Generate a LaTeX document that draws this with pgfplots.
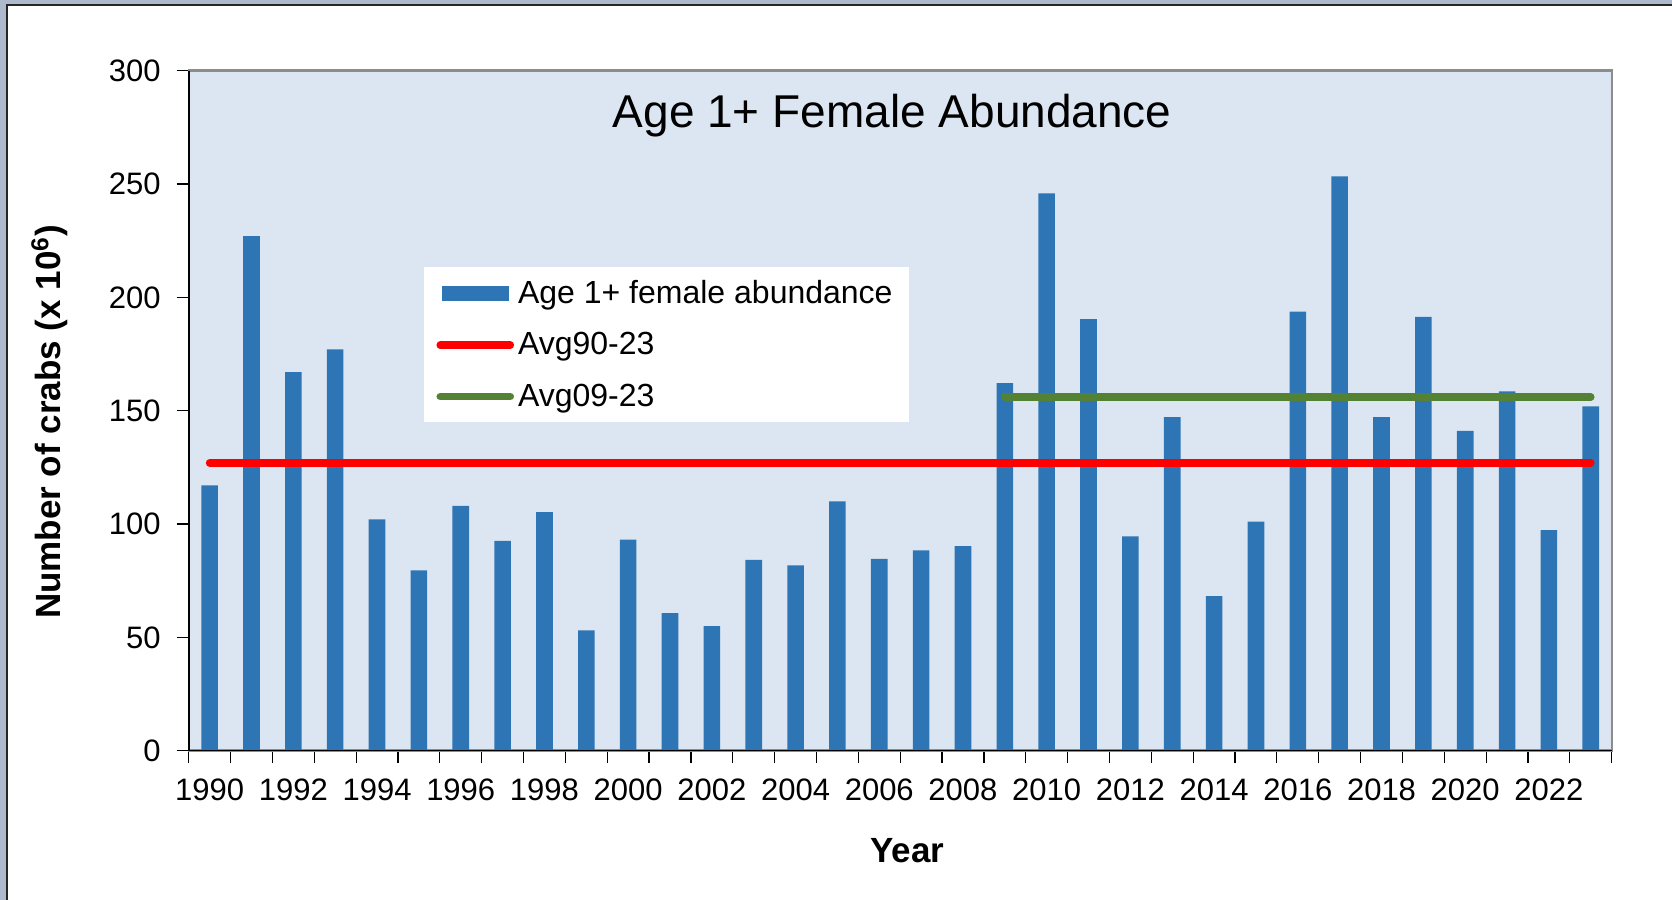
\documentclass[border=0pt]{standalone}
\usepackage{fontspec}
\setmainfont{Liberation Sans}
\usepackage{pgfplots}
\pgfplotsset{compat=1.18}
\definecolor{framebg}{HTML}{ADB9CD}
\definecolor{plotbg}{HTML}{DCE6F2}
\definecolor{barblue}{HTML}{2E75B6}
\definecolor{avggreen}{HTML}{548235}
\begin{document}
\begin{tikzpicture}
\useasboundingbox (0,0) rectangle (836pt,450pt);
\fill[framebg] (0,0) rectangle (836pt,450pt);
\fill[white] (3.5pt,0) rectangle (836pt,447.5pt);
\draw[black!85,line width=0.8pt] (3.5pt,0) -- (3.5pt,447.5pt) -- (836pt,447.5pt);
\begin{axis}[
  at={(94.35pt,74.65pt)}, anchor=south west,
  scale only axis, width=711.5pt, height=340pt,
  xmin=1989.5, xmax=2023.5, ymin=0, ymax=300,
  axis background/.style={fill=plotbg},
  axis line style={draw=gray!90, line width=1.2pt},
  /pgf/number format/assume math mode=true,
  tick label style={font=\fontsize{15.5}{18}\selectfont},
  tick align=outside, major tick length=6pt,
  tick style={black, line width=0.6pt},
  xtick pos=bottom, ytick pos=left,
  ytick={0,50,...,300},
  yticklabel style={xshift=-4.5pt},
  xtick={1989.5,1990.5,...,2023.5}, xticklabels={},
  extra x ticks={1990,1992,...,2022},
  extra x tick labels={1990,1992,1994,1996,1998,2000,2002,2004,2006,2008,2010,2012,2014,2016,2018,2020,2022},
  extra x tick style={tick style={draw=none}, tick label style={yshift=-4.6pt}},
  title={Age 1+ Female Abundance},
  title style={font=\fontsize{23}{27}\selectfont, at={(axis description cs:0.4944,0.917)}, anchor=center},
  xlabel={Year},
  xlabel style={font=\bfseries\fontsize{17.5}{21}\selectfont, at={(axis description cs:0.5049,-0.1475)}, anchor=center},
  ylabel={Number of crabs (x 10\textsuperscript{6})},
  ylabel style={font=\bfseries\fontsize{17.5}{21}\selectfont, at={(axis description cs:-0.0977,0.4834)}, anchor=center, rotate=0},
  legend style={at={(0.1654,0.7113)}, anchor=north west, draw=none, fill=white,
    font=\fontsize{16}{19}\selectfont, row sep=9pt, inner xsep=6pt, inner ysep=4.5pt},
  legend cell align=left,
  after end axis/.code={\draw[black,line width=0.8pt] (rel axis cs:0,1) -- (rel axis cs:0,0) -- (rel axis cs:1,0);},
]
\addplot[ybar, bar width=8.3pt, fill=barblue, draw=none,
  legend image code/.code={\fill[barblue] (0pt,-3.75pt) rectangle (33.5pt,3.75pt);}]
  coordinates {
  (1990,117) (1991,227) (1992,167) (1993,177) (1994,102) (1995,79.5)
  (1996,108) (1997,92.6) (1998,105.3) (1999,53.1) (2000,93.1) (2001,60.7)
  (2002,55.0) (2003,84.2) (2004,81.8) (2005,110) (2006,84.6) (2007,88.4)
  (2008,90.3) (2009,162.2) (2010,245.9) (2011,190.4) (2012,94.5) (2013,147.2)
  (2014,68.2) (2015,101.1) (2016,193.7) (2017,253.4) (2018,147.2) (2019,191.4)
  (2020,141.1) (2021,158.5) (2022,97.3) (2023,151.9)};
\addlegendentry{Age 1+ female abundance}
\addplot[red, line width=3.8pt, line cap=round,
  legend image code/.code={\draw[red,line width=3.8pt,line cap=round] (-1pt,0pt) -- (34pt,0pt);}]
  coordinates {(1990,127) (2023,127)};
\addlegendentry{Avg90-23}
\addplot[avggreen, line width=3.8pt, line cap=round,
  legend image code/.code={\draw[avggreen,line width=3.8pt,line cap=round] (-1pt,0pt) -- (34pt,0pt);}]
  coordinates {(2009,156) (2023,156)};
\addlegendentry{Avg09-23}
\end{axis}
\end{tikzpicture}
\end{document}
